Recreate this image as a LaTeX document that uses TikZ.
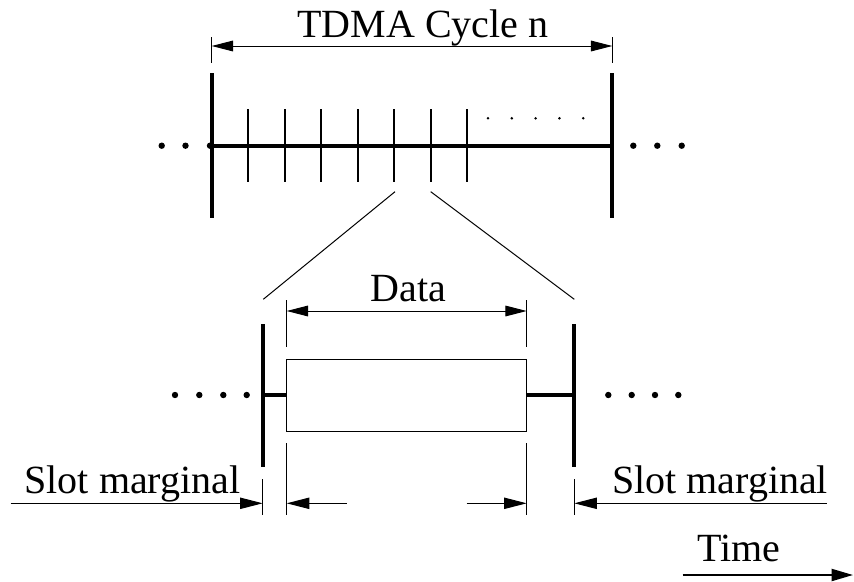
\documentclass[tikz,border=0pt]{standalone}
\usepackage{fontspec}
\setmainfont{Liberation Serif}
\usetikzlibrary{arrows.meta}

\tikzset{
  lbl/.style={font=\fontsize{30}{36}\selectfont, inner sep=0pt, anchor=base},
  dim/.style={line width=0.75pt},
  bar/.style={line width=3.2pt},
  tick/.style={line width=1.5pt},
  thin/.style={line width=0.75pt},
}

\begin{document}
\begin{tikzpicture}[x=0.75pt,y=-0.75pt]
  \useasboundingbox (0,0) rectangle (854,582);

  % TDMA cycle span
  \node[lbl] (cycle) at (423,37) {TDMA Cycle n};
  \draw[thin] (211.7,37) -- (211.7,63);
  \draw[thin] (612.3,37) -- (612.3,63);
  \coordinate (cs) at (211.7,46);
  \coordinate (ce) at (612.3,46);
  \draw[dim, {Triangle[length=16pt,width=8pt]}-{Triangle[length=16pt,width=8pt]}] (cs) -- (ce);

  % Cycle boundaries and time line
  \coordinate (cl) at (211.7,145.7);
  \coordinate (cr) at (612.3,145.7);
  \draw[bar] (211.7,73) -- (211.7,218);
  \draw[bar] (612.3,73) -- (612.3,218);
  \draw[line width=3pt] (cl) -- (cr);

  % Slots
  \foreach \i in {0,...,6}
    \draw[tick] ({248.3+36.45*\i},109) -- ({248.3+36.45*\i},182);
  \foreach \i in {0,...,4}
    \fill ({488+23.8*\i},118.3) circle (1.4);

  % Continuation dots
  \foreach \x in {161.7,185.5,210}
    \fill (\x,145.7) circle (3.2);
  \foreach \x in {633.3,657.3,681.7}
    \fill (\x,145.7) circle (3.2);

  % Zoom into one slot
  \coordinate (za) at (395,191.7);
  \coordinate (zb) at (430.7,191.7);
  \coordinate (zl) at (263.3,299.3);
  \coordinate (zr) at (574.3,299.3);
  \draw[thin] (za) -- (zl);
  \draw[thin] (zb) -- (zr);

  % Data span
  \node[lbl] (data) at (408.3,301) {Data};
  \draw[thin] (286.7,300) -- (286.7,346.7);
  \draw[thin] (526.7,300) -- (526.7,346.7);
  \coordinate (ds) at (286.7,311);
  \coordinate (de) at (526.7,311);
  \draw[dim, {Triangle[length=16pt,width=8pt]}-{Triangle[length=16pt,width=8pt]}] (ds) -- (de);

  % Slot boundaries and data frame
  \draw[bar] (262.7,324) -- (262.7,467);
  \draw[bar] (574.3,324) -- (574.3,467);
  \draw[line width=0.9pt] (286.7,359.3) rectangle (526.7,431.7);
  \draw[bar] (262.7,395) -- (286.7,395);
  \draw[bar] (526.7,395) -- (574.3,395);
  \foreach \x in {175,199.3,223.3,246.7}
    \fill (\x,395) circle (3.2);
  \foreach \x in {608.3,631.7,655,678.3}
    \fill (\x,395) circle (3.2);

  % Slot margins
  \draw[thin] (286.7,443) -- (286.7,515);
  \draw[thin] (526.7,443) -- (526.7,515);
  \draw[thin] (262.7,479) -- (262.7,515);
  \draw[thin] (574.3,479) -- (574.3,515);
  \node[lbl] (mleft) at (132.5,493) {Slot marginal};
  \node[lbl] (mright) at (720,493) {Slot marginal};
  \coordinate (ml0) at (10.7,503.3);
  \coordinate (ml1) at (262.7,503.3);
  \coordinate (ml2) at (286.7,503.3);
  \coordinate (ml3) at (346.7,503.3);
  \coordinate (mr0) at (466.7,503.3);
  \coordinate (mr1) at (526.7,503.3);
  \coordinate (mr2) at (574.3,503.3);
  \coordinate (mr3) at (826.7,503.3);
  \draw[dim, -{Triangle[length=17pt,width=8.5pt]}] (ml0) -- (ml1);
  \draw[dim, -{Triangle[length=17pt,width=8.5pt]}] (ml3) -- (ml2);
  \draw[dim, -{Triangle[length=17pt,width=8.5pt]}] (mr0) -- (mr1);
  \draw[dim, -{Triangle[length=17pt,width=8.5pt]}] (mr3) -- (mr2);

  % Time direction
  \node[lbl] (time) at (739,561.7) {Time};
  \coordinate (t0) at (682.7,575);
  \coordinate (t1) at (853,575);
  \draw[line width=1.5pt, -{Triangle[length=16pt,width=9pt]}] (t0) -- (t1);
\end{tikzpicture}
\end{document}
